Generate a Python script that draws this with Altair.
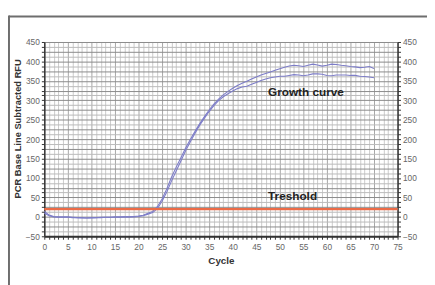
import altair as alt
import pandas as pd
import numpy as np

cycles = list(range(0, 71))
upper = [14, 5, 1, 0, 0, 0, -1, -2, -2, -3, -2, -2, -1, -1, -1, 0, 0, 0, 0, 1,
         2, 4, 9, 14, 26, 46, 72, 102, 128, 152, 177, 199, 220, 240, 258, 275, 290, 303, 314, 323,
         331, 338, 344, 349, 355, 360, 365, 369, 373, 377, 381, 385, 388, 390, 389, 387, 390, 393, 391, 388,
         390, 393, 392, 390, 389, 387, 386, 384, 385, 387, 382]
lower = [10, 3, 0, -1, -1, -1, -2, -2, -3, -3, -3, -2, -2, -1, -1, -1, -1, 0, 0, 0,
         1, 3, 7, 11, 21, 40, 64, 92, 118, 144, 170, 193, 215, 236, 254, 271, 286, 299, 309, 317,
         324, 330, 334, 336, 341, 346, 351, 355, 358, 360, 362, 362, 364, 366, 365, 363, 365, 368, 368, 367,
         364, 363, 365, 365, 365, 364, 364, 362, 361, 360, 358]
threshold = [20]
label_texts = ["Growth curve", "Treshold"]
label_x = [47.5, 47.5]
label_y = [321, 54]

x_ticks = [float(v) for v in range(0, 76)]
y_ticks = [float(v) for v in np.arange(-50, 450.1, 12.5)]

df = pd.DataFrame({
    "cycle": cycles * 2,
    "rfu": upper + lower,
    "series": ["A"] * len(cycles) + ["B"] * len(cycles),
})
thr = pd.DataFrame({"t": threshold})
labels = pd.DataFrame({"text": label_texts, "x": label_x, "y": label_y})

FONT = "Liberation Sans"
xscale = alt.Scale(domain=[0, 75], nice=False, zero=False)
yscale = alt.Scale(domain=[-50, 450], nice=False, zero=False)

x_axis = alt.Axis(
    values=x_ticks,
    labelExpr="datum.value % 5 == 0 ? datum.label : ''",
    labelOverlap=False, labelFlush=False,
    grid=True,
    gridColor={"condition": {"test": "datum.value % 5 == 0", "value": "#a6a6a6"}, "value": "#cbcbcb"},
    gridWidth=1,
    domainColor="#333333", domainWidth=2,
    tickColor="#333333", tickSize=3, tickWidth=1,
    labelColor="#666666", labelFontSize=8.5, labelFont=FONT, labelPadding=3,
    title="Cycle", titleFont=FONT, titleFontSize=10, titleFontWeight="bold",
    titleColor="#333333", titlePadding=5,
)
y_axis_left = alt.Axis(
    values=y_ticks,
    labelExpr="datum.value % 50 == 0 ? datum.label : ''",
    labelOverlap=False, labelFlush=False,
    grid=True,
    gridColor={"condition": {"test": "datum.value % 25 == 0", "value": "#8a8a8a"}, "value": "#bababa"},
    gridWidth=1,
    domainColor="#333333", domainWidth=1.5,
    tickColor="#333333", tickSize=3,
    labelColor="#666666", labelFontSize=8.5, labelFont=FONT, labelPadding=2,
    title="PCR Base Line Subtracted RFU", titleFont=FONT, titleFontSize=9.5,
    titleFontWeight="bold", titleColor="#333333",
    titleX=-27, titleY=88, titleAngle=270, titleAlign="center", titleBaseline="middle",
)
y_axis_right = alt.Axis(
    orient="right",
    values=y_ticks,
    labelExpr="datum.value % 50 == 0 ? datum.label : ''",
    labelOverlap=False, labelFlush=False,
    grid=False,
    domainColor="#333333", domainWidth=1.5,
    tickColor="#333333", tickSize=3,
    labelColor="#666666", labelFontSize=8.5, labelFont=FONT, labelPadding=2,
    title=None,
)

lines = alt.Chart(df).mark_line(strokeWidth=1.1, color="#7d7dc8").encode(
    x=alt.X("cycle:Q", scale=xscale, axis=x_axis),
    y=alt.Y("rfu:Q", scale=yscale, axis=y_axis_left),
    detail="series:N",
)

thr_rule = alt.Chart(thr).mark_rule(color="#ec6b47", strokeWidth=2.2).encode(
    y=alt.Y("t:Q", scale=yscale, axis=y_axis_right),
)

texts = alt.Chart(labels).mark_text(
    align="left", baseline="middle", font=FONT, fontSize=12, fontWeight="bold", color="#222222"
).encode(
    x=alt.X("x:Q", scale=xscale, axis=None),
    y=alt.Y("y:Q", scale=yscale, axis=None),
    text="text:N",
)

frame_top = alt.Chart(thr).mark_rule(color="#6e6e6e", strokeWidth=2).encode(
    x=alt.value(-36), x2=alt.value(400), y=alt.value(-26)
)
frame_left = alt.Chart(thr).mark_rule(color="#6e6e6e", strokeWidth=2).encode(
    x=alt.value(-36), y=alt.value(-27), y2=alt.value(260)
)

chart = alt.layer(lines, thr_rule, texts, frame_top, frame_left).resolve_axis(
    x="independent", y="independent"
).properties(
    width=360, height=198,
    autosize=alt.AutoSizeParams(type="none"),
    padding={"left": 37, "top": 32, "right": 30, "bottom": 47},
    background="white",
).configure_view(stroke=None)

chart.save("out.html", embed_options={"renderer": "svg", "actions": False})
